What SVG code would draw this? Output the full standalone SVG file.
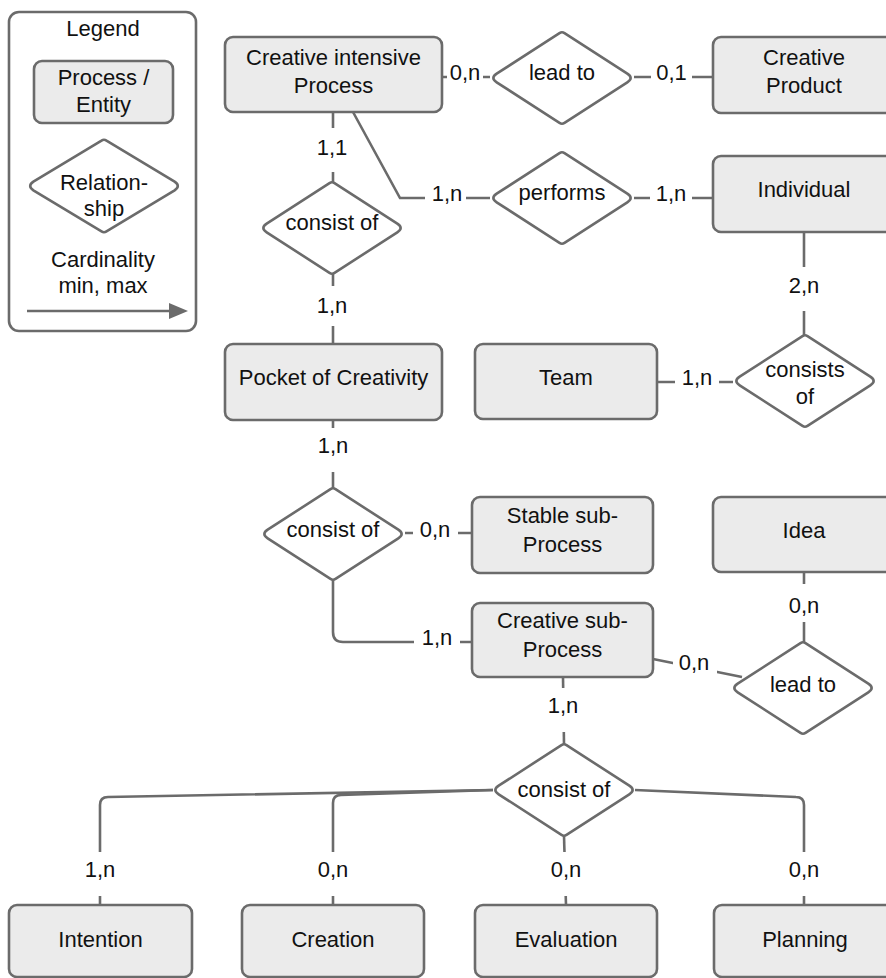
<svg xmlns="http://www.w3.org/2000/svg" width="886" height="978" viewBox="0 0 886 978">
<style>
  .box{fill:#ebebeb;stroke:#6b6b6b;stroke-width:2.6}
  .dia{fill:#ffffff;stroke:#6b6b6b;stroke-width:2.6}
  .ln{fill:none;stroke:#6b6b6b;stroke-width:2.6}
  .lbg{fill:#ffffff}
  text{font-family:"Liberation Sans",Arial,sans-serif;font-size:22px;fill:#111111;text-anchor:middle}
</style>
<defs>
  <path id="dm" d="M -2.5,-44.9 Q 0,-46.5 2.5,-44.9 L 65.3,-4.3 Q 72,0 65.3,4.3 L 2.5,44.9 Q 0,46.5 -2.5,44.9 L -65.3,4.3 Q -72,0 -65.3,-4.3 Z"/>
  <marker id="arr" markerWidth="10" markerHeight="10" refX="9" refY="5" orient="auto" markerUnits="userSpaceOnUse" viewBox="0 0 10 10">
    <path d="M0,0 L10,5 L0,10 Z" fill="#6b6b6b"/>
  </marker>
</defs>
<rect width="886" height="978" fill="#ffffff"/>

<g id="legend">
  <rect x="9" y="12" width="187" height="319" rx="10" fill="#ffffff" stroke="#6b6b6b" stroke-width="2.6"/>
  <text x="103" y="36">Legend</text>
  <rect class="box" x="34" y="61" width="139" height="62" rx="8"/>
  <text x="103.5" y="85">Process /</text>
  <text x="103.5" y="112">Entity</text>
  <path class="dia" d="M 101.5,140.6 Q 104,139 106.5,140.6 L 174.6,181.7 Q 181,186 174.6,190.3 L 106.5,231.4 Q 104,233 101.5,231.4 L 33.4,190.3 Q 27,186 33.4,181.7 Z"/>
  <text x="104" y="190">Relation-</text>
  <text x="104" y="216">ship</text>
  <text x="103" y="267">Cardinality</text>
  <text x="103" y="293">min, max</text>
  <line x1="27" y1="311" x2="172" y2="311" stroke="#6b6b6b" stroke-width="2.6"/>
  <path d="M169,303 L188,311 L169,319 Z" fill="#6b6b6b"/>
</g>

<g id="connectors">
  <line class="ln" x1="442" y1="77" x2="490" y2="77"/>
  <line class="ln" x1="634" y1="77" x2="713" y2="77"/>
  <line class="ln" x1="333" y1="112" x2="333" y2="182"/>
  <polyline class="ln" points="353,112 400,198 490,198"/>
  <line class="ln" x1="634" y1="198" x2="713" y2="198"/>
  <line class="ln" x1="804" y1="232" x2="804" y2="335"/>
  <line class="ln" x1="657" y1="382" x2="733" y2="382"/>
  <line class="ln" x1="333" y1="274" x2="333" y2="344"/>
  <line class="ln" x1="333" y1="420" x2="333" y2="488"/>
  <line class="ln" x1="405" y1="533" x2="472" y2="533"/>
  <path class="ln" d="M333,580 L333,632 Q333,642 343,642 L472,642"/>
  <line class="ln" x1="804" y1="572" x2="804" y2="642"/>
  <line class="ln" x1="653" y1="659" x2="742" y2="677"/>
  <line class="ln" x1="563" y1="677" x2="564" y2="744"/>
  <path class="ln" d="M493,790 L108,797 Q100,797 100,805 L100,905"/>
  <path class="ln" d="M493,790 L341,795 Q333,795 333,803 L333,905"/>
  <line class="ln" x1="564" y1="836" x2="566" y2="905"/>
  <path class="ln" d="M635,790 L796,797 Q804,797 804,805 L804,905"/>

  <g id="labels">
    <rect class="lbg" x="447" y="62" width="36" height="26"/><text x="465" y="80">0,n</text>
    <rect class="lbg" x="651" y="62" width="41" height="26"/><text x="671.5" y="80">0,1</text>
    <rect class="lbg" x="316" y="128" width="34" height="44"/><text x="332" y="155">1,1</text>
    <rect class="lbg" x="425" y="185" width="41" height="26"/><text x="447" y="201">1,n</text>
    <rect class="lbg" x="650" y="185" width="42" height="26"/><text x="671" y="201">1,n</text>
    <rect class="lbg" x="786" y="267" width="36" height="44"/><text x="804" y="293">2,n</text>
    <rect class="lbg" x="675" y="369" width="44" height="26"/><text x="697" y="385">1,n</text>
    <rect class="lbg" x="316" y="286" width="34" height="40"/><text x="332" y="313">1,n</text>
    <rect class="lbg" x="316" y="428" width="34" height="44"/><text x="333" y="453">1,n</text>
    <rect class="lbg" x="413" y="520" width="45" height="26"/><text x="435" y="537">0,n</text>
    <rect class="lbg" x="414" y="628" width="46" height="26"/><text x="437" y="645">1,n</text>
    <rect class="lbg" x="786" y="584" width="36" height="38"/><text x="804" y="613">0,n</text>
    <rect class="lbg" x="673" y="655" width="44" height="26"/><text x="694" y="670">0,n</text>
    <rect class="lbg" x="545" y="688" width="36" height="44"/><text x="563" y="713">1,n</text>
    <rect class="lbg" x="82" y="852" width="36" height="44"/><text x="100" y="877">1,n</text>
    <rect class="lbg" x="315" y="852" width="36" height="44"/><text x="333" y="877">0,n</text>
    <rect class="lbg" x="548" y="852" width="36" height="44"/><text x="566" y="877">0,n</text>
    <rect class="lbg" x="786" y="852" width="36" height="44"/><text x="804" y="877">0,n</text>
  </g>
</g>

<g id="creative-intensive-process">
  <rect class="box" x="225" y="37" width="217" height="75" rx="8"/>
  <text x="333.5" y="65">Creative intensive</text>
  <text x="333.5" y="93">Process</text>
</g>
<g id="creative-product">
  <rect class="box" x="713" y="37" width="182" height="76" rx="8"/>
  <text x="804" y="65">Creative</text>
  <text x="804" y="93">Product</text>
</g>
<g id="individual">
  <rect class="box" x="713" y="156" width="182" height="76" rx="8"/>
  <text x="804" y="197">Individual</text>
</g>
<g id="pocket-of-creativity">
  <rect class="box" x="225" y="344" width="217" height="76" rx="8"/>
  <text x="333.5" y="385">Pocket of Creativity</text>
</g>
<g id="team">
  <rect class="box" x="475" y="344" width="182" height="75" rx="8"/>
  <text x="566" y="385">Team</text>
</g>
<g id="stable-sub-process">
  <rect class="box" x="472" y="497" width="181" height="76" rx="8"/>
  <text x="562.5" y="523">Stable sub-</text>
  <text x="562.5" y="552">Process</text>
</g>
<g id="idea">
  <rect class="box" x="713" y="497" width="182" height="75" rx="8"/>
  <text x="804" y="538">Idea</text>
</g>
<g id="creative-sub-process">
  <rect class="box" x="472" y="603" width="181" height="74" rx="8"/>
  <text x="562.5" y="628">Creative sub-</text>
  <text x="562.5" y="657">Process</text>
</g>
<g id="intention">
  <rect class="box" x="9" y="905" width="183" height="72" rx="8"/>
  <text x="100.5" y="947">Intention</text>
</g>
<g id="creation">
  <rect class="box" x="242" y="905" width="182" height="72" rx="8"/>
  <text x="333" y="947">Creation</text>
</g>
<g id="evaluation">
  <rect class="box" x="475" y="905" width="182" height="72" rx="8"/>
  <text x="566" y="947">Evaluation</text>
</g>
<g id="planning">
  <rect class="box" x="714" y="905" width="182" height="72" rx="8"/>
  <text x="805" y="947">Planning</text>
</g>

<g id="rel-lead-to-1">
  <use href="#dm" class="dia" x="562" y="78"/>
  <text x="562" y="80">lead to</text>
</g>
<g id="rel-performs">
  <use href="#dm" class="dia" x="562" y="198"/>
  <text x="562" y="200">performs</text>
</g>
<g id="rel-consist-of-1">
  <use href="#dm" class="dia" x="332" y="228"/>
  <text x="332" y="230">consist of</text>
</g>
<g id="rel-consists-of">
  <use href="#dm" class="dia" x="805" y="381"/>
  <text x="805" y="377">consists</text>
  <text x="805" y="404">of</text>
</g>
<g id="rel-consist-of-2">
  <use href="#dm" class="dia" x="333" y="534"/>
  <text x="333" y="537">consist of</text>
</g>
<g id="rel-lead-to-2">
  <use href="#dm" class="dia" x="803" y="688"/>
  <text x="803" y="692">lead to</text>
</g>
<g id="rel-consist-of-3">
  <use href="#dm" class="dia" x="564" y="790"/>
  <text x="564" y="797">consist of</text>
</g>
</svg>
